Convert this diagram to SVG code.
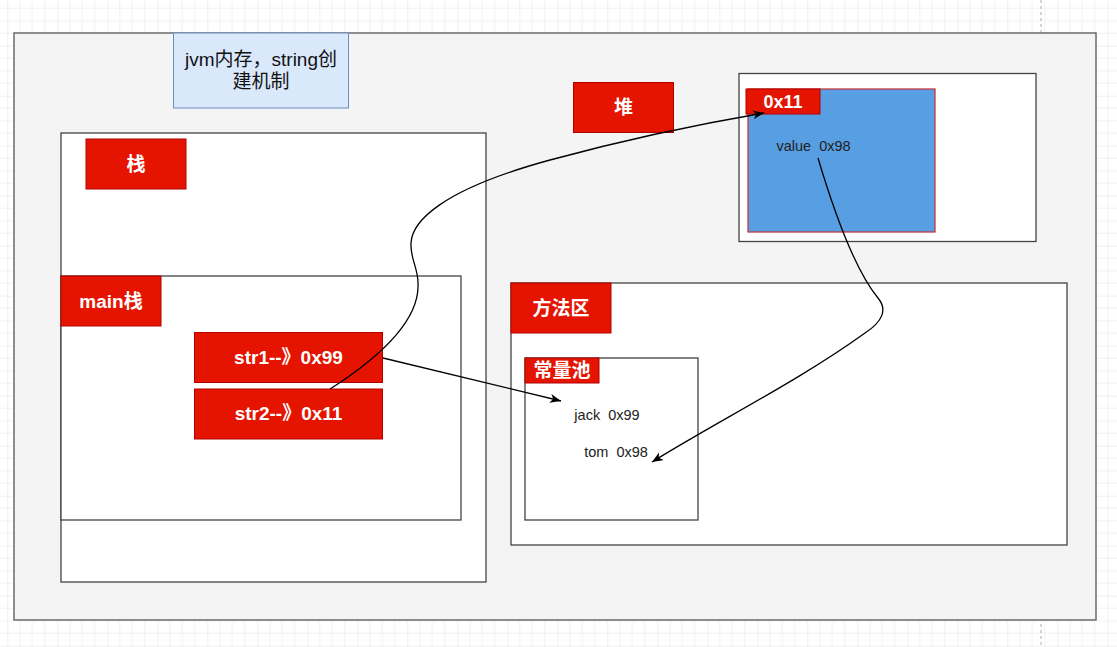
<svg xmlns="http://www.w3.org/2000/svg" width="1117" height="647" viewBox="0 0 1117 647">
  <style>
    .box { fill: #ffffff; stroke: #444444; stroke-width: 1.3; }
    .red { fill: #e51400; stroke: #b20000; stroke-width: 1; }
    .lbl { fill: #ffffff; font-family: "Liberation Sans", "Noto Sans CJK SC", sans-serif; font-weight: bold; font-size: 19px; text-anchor: middle; }
    .txt { fill: #222222; font-family: "Liberation Sans", "Noto Sans CJK SC", sans-serif; font-size: 14.5px; text-anchor: middle; }
    .title { fill: #111111; font-family: "Liberation Sans", "Noto Sans CJK SC", sans-serif; font-size: 19px; text-anchor: middle; }
    .edge { fill: none; stroke: #000000; stroke-width: 1.3; }
  </style>
  <defs>
    <pattern id="grid" patternUnits="userSpaceOnUse" x="7.3" y="45.7" width="50" height="50">
      <path d="M12.5 0V50M25 0V50M37.5 0V50M0 12.5H50M0 25H50M0 37.5H50" stroke="#f1f1f1" stroke-width="1" fill="none"/>
      <path d="M0 0V50M0 0H50" stroke="#e1e1e1" stroke-width="1" fill="none"/>
    </pattern>
    <marker id="arrow" markerUnits="userSpaceOnUse" markerWidth="12" markerHeight="10" refX="11" refY="4.5" orient="auto">
      <path d="M0,0 L11,4.5 L0,9 L3,4.5 Z" fill="#000000"/>
    </marker>
  </defs>

  <g id="background">
    <rect x="0" y="0" width="1117" height="647" fill="#ffffff"/>
    <rect x="0" y="0" width="1117" height="647" fill="url(#grid)"/>
    <line x1="1041" y1="0" x2="1041" y2="647" stroke="#c8c8c8" stroke-width="1.5" stroke-dasharray="3,3"/>
  </g>

  <g id="container">
    <rect x="14" y="33" width="1082" height="587" fill="#f4f4f4" stroke="#6b6b6b" stroke-width="1.5"/>
  </g>

  <g id="title">
    <rect x="173.5" y="33" width="175" height="75" fill="#dae8fc" stroke="#6c8ebf" stroke-width="1"/>
    <text class="title" x="261" y="66">jvm内存，string创</text>
    <text class="title" x="261" y="88">建机制</text>
  </g>

  <g id="stack">
    <rect class="box" x="61" y="133" width="425" height="449"/>
    <rect class="red" x="86" y="139" width="100" height="50"/>
    <text class="lbl" x="136" y="171">栈</text>
  </g>

  <g id="main-stack">
    <rect class="box" x="61" y="276" width="400" height="244"/>
    <rect class="red" x="61" y="276" width="100" height="50"/>
    <text class="lbl" x="111" y="308">main栈</text>
  </g>

  <g id="str1">
    <rect class="red" x="194.5" y="332.5" width="188" height="50"/>
    <text class="lbl" x="288.5" y="364">str1--》0x99</text>
  </g>

  <g id="str2">
    <rect class="red" x="194.5" y="389" width="188" height="50"/>
    <text class="lbl" x="288.5" y="420">str2--》0x11</text>
  </g>

  <g id="heap-label">
    <rect class="red" x="573.5" y="82.5" width="100" height="50"/>
    <text class="lbl" x="623.5" y="114">堆</text>
  </g>

  <g id="heap">
    <rect class="box" x="739" y="73.5" width="297" height="168"/>
  </g>

  <g id="object-0x11">
    <rect x="748" y="89" width="187" height="143" fill="#589ee2" stroke="#c43a42" stroke-width="1.3"/>
    <rect class="red" x="746" y="89" width="74" height="25"/>
    <text class="lbl" x="783" y="108" style="font-size:18px">0x11</text>
    <text class="txt" x="813.5" y="151">value&#160;&#160;0x98</text>
  </g>

  <g id="method-area">
    <rect class="box" x="511" y="283" width="556" height="262"/>
    <rect class="red" x="511" y="283" width="100" height="50"/>
    <text class="lbl" x="561" y="315">方法区</text>
  </g>

  <g id="constant-pool">
    <rect class="box" x="525" y="358" width="173" height="162"/>
    <rect class="red" x="525" y="358" width="74" height="25"/>
    <text class="lbl" x="562" y="377">常量池</text>
    <text class="txt" x="607" y="420">jack&#160;&#160;0x99</text>
    <text class="txt" x="616" y="457">tom&#160;&#160;0x98</text>
  </g>

  <g id="connectors">
    <path class="edge" d="M383 358 L561 401" marker-end="url(#arrow)"/>
    <path class="edge" d="M330 389 C380 357 420 320 418 283 C418 268 410 258 411 243 C412 222 440 190 550 160 C620 141 700 124 764 113" marker-end="url(#arrow)"/>
    <path class="edge" d="M818 158 C835 215 855 270 878 298 C888 310 882 322 865 333 C800 380 720 420 652 462" marker-end="url(#arrow)"/>
  </g>
</svg>
